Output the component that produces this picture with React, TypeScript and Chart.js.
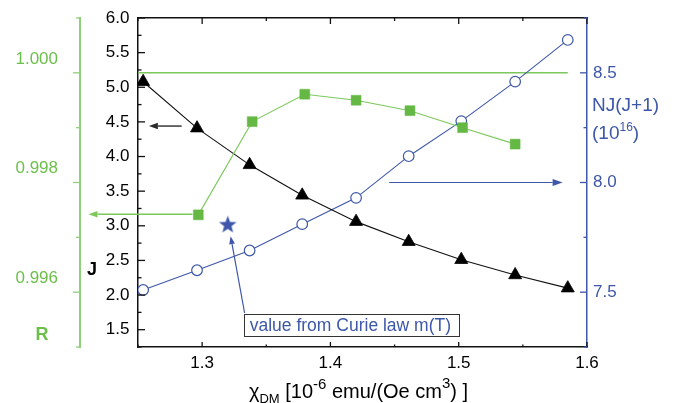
import React, { useEffect, useRef } from 'react';
import { Chart, registerables } from 'chart.js';

Chart.register(...registerables);

// ---------- data ----------
const CHI_DM = [1.254, 1.296, 1.337, 1.378, 1.42, 1.461, 1.502, 1.544, 1.585];
const J_VALUES = [5.08, 4.41, 3.88, 3.44, 3.06, 2.77, 2.51, 2.29, 2.1];
const NJ_VALUES = [7.51, 7.6, 7.69, 7.81, 7.93, 8.12, 8.28, 8.46, 8.65];
const R_CHI = [1.297, 1.339, 1.38, 1.42, 1.462, 1.503, 1.544];
const R_VALUES = [0.99741, 0.99911, 0.99961, 0.9995, 0.99931, 0.999, 0.9987];
const R_REF_CHI = [1.25, 1.585];
const R_REF_VALUES = [1.0, 1.0];
const CURIE_CHI = [1.32];
const CURIE_NJ = [7.81];

const X_MIN = 1.25, X_MAX = 1.6;
const J_MIN = 1.25, J_MAX = 6.0;
const NJ_MIN = 7.25, NJ_MAX = 8.75;
const R_MIN = 0.995, R_MAX = 1.001;

const CURIE_LABEL = 'value from Curie law m(T)';

// ---------- styles ----------
const FONT = '"Liberation Sans", Arial, Helvetica, sans-serif';
const BLACK = '#111111';
const GREEN = '#64b843';
const GREEN_LINE = '#7cc85c';
const GREEN_AXIS = '#8fd07a';
const GREEN_TEXT = '#6cbf4a';
const BLUE = '#3e57a8';

const isMultiple = (v: number, step: number) => Math.abs(v / step - Math.round(v / step)) < 1e-6;

const pts = (xs: number[], ys: number[]) => xs.map((x, i) => ({ x, y: ys[i] }));

function makeStar(size: number, color: string) {
  const c = document.createElement('canvas');
  c.width = size;
  c.height = size;
  const g = c.getContext('2d')!;
  const cx = size / 2, cy = size / 2 + 0.8;
  const R = size / 2 - 0.3, r = R * 0.42;
  g.beginPath();
  for (let i = 0; i < 10; i++) {
    const a = -Math.PI / 2 + (i * Math.PI) / 5;
    const rr = i % 2 ? r : R;
    g.lineTo(cx + rr * Math.cos(a), cy + rr * Math.sin(a));
  }
  g.closePath();
  g.fillStyle = color;
  g.fill();
  return c;
}

function drawArrow(ctx: CanvasRenderingContext2D, x1: number, y1: number, x2: number, y2: number, color: string, width: number, head: number) {
  const ang = Math.atan2(y2 - y1, x2 - x1);
  const hw = head * 0.36;
  const bx = x2 - head * Math.cos(ang), by = y2 - head * Math.sin(ang);
  ctx.save();
  ctx.strokeStyle = color;
  ctx.lineWidth = width;
  ctx.beginPath();
  ctx.moveTo(x1, y1);
  ctx.lineTo(bx, by);
  ctx.stroke();
  ctx.fillStyle = color;
  ctx.beginPath();
  ctx.moveTo(x2, y2);
  ctx.lineTo(bx + hw * Math.sin(ang), by - hw * Math.cos(ang));
  ctx.lineTo(bx - hw * Math.sin(ang), by + hw * Math.cos(ang));
  ctx.closePath();
  ctx.fill();
  ctx.restore();
}

type Part = { t: string; size: number; dy?: number; bold?: boolean };
function drawRich(ctx: CanvasRenderingContext2D, parts: Part[], x: number, y: number, align: 'left' | 'center', color: string) {
  ctx.save();
  ctx.fillStyle = color;
  ctx.textBaseline = 'alphabetic';
  ctx.textAlign = 'left';
  const widths: number[] = [];
  let total = 0;
  for (const p of parts) {
    ctx.font = `${p.bold ? 'bold ' : ''}${p.size}px ${FONT}`;
    const w = ctx.measureText(p.t).width;
    widths.push(w);
    total += w;
  }
  let cx = align === 'center' ? x - total / 2 : x;
  parts.forEach((p, i) => {
    ctx.font = `${p.bold ? 'bold ' : ''}${p.size}px ${FONT}`;
    ctx.fillText(p.t, cx, y + (p.dy || 0));
    cx += widths[i];
  });
  ctx.restore();
}

// tick-mark specs (inward / outward, major & minor lengths)
const TICK_SPECS = [
  { id: 'x', side: 'bottom', color: BLACK, majorStep: 0.1, major: 5, minor: 2.5 },
  { id: 'x2', side: 'top', color: BLACK, majorStep: 0.1, major: 6, minor: 3 },
  { id: 'yJ', side: 'leftIn', color: BLACK, majorStep: 0.5, major: 7, minor: 3.5 },
  { id: 'yR', side: 'leftOut', color: GREEN_AXIS, majorStep: 0.002, major: 7, minor: 4 },
  { id: 'yNJ', side: 'rightIn', color: BLUE, majorStep: 0.5, major: 7, minor: 3.5 },
];

const decorPlugin = {
  id: 'decor',
  afterDraw(chart: any) {
    const ctx: CanvasRenderingContext2D = chart.ctx;
    const s = chart.scales;
    // tick marks
    for (const spec of TICK_SPECS) {
      const sc = s[spec.id];
      ctx.save();
      ctx.strokeStyle = spec.color;
      ctx.lineWidth = 1.3;
      for (const t of sc.ticks) {
        const len = isMultiple(t.value, spec.majorStep) ? spec.major : spec.minor;
        const p = sc.getPixelForValue(t.value);
        ctx.beginPath();
        if (spec.side === 'bottom') { ctx.moveTo(p, sc.top); ctx.lineTo(p, sc.top - len); }
        else if (spec.side === 'top') { ctx.moveTo(p, sc.bottom); ctx.lineTo(p, sc.bottom + len); }
        else if (spec.side === 'leftIn') { ctx.moveTo(sc.right, p); ctx.lineTo(sc.right + len, p); }
        else if (spec.side === 'leftOut') { ctx.moveTo(sc.right, p); ctx.lineTo(sc.right - len, p); }
        else { ctx.moveTo(sc.left, p); ctx.lineTo(sc.left - len, p); }
        ctx.stroke();
      }
      ctx.restore();
    }

    const X = (v: number) => s.x.getPixelForValue(v);
    const YJ = (v: number) => s.yJ.getPixelForValue(v);
    const YR = (v: number) => s.yR.getPixelForValue(v);
    const YN = (v: number) => s.yNJ.getPixelForValue(v);

    // arrows
    drawArrow(ctx, X(1.284), YJ(4.44), X(1.2585), YJ(4.44), '#2a2a2a', 1.4, 9);
    drawArrow(ctx, X(1.2925), YR(0.99742), X(1.2114), YR(0.99742), GREEN_LINE, 1.5, 9);
    drawArrow(ctx, X(1.4458), YN(8.0), X(1.581), YN(8.0), BLUE, 1.2, 10);
    drawArrow(ctx, X(1.3331), YN(7.405), X(1.3222), YN(7.755), BLUE, 1.2, 8);

    // Curie box
    ctx.save();
    const bx1 = X(1.3324), bx2 = X(1.5002), by1 = YN(7.40), by2 = YN(7.30);
    ctx.fillStyle = '#ffffff';
    ctx.fillRect(bx1, by1, bx2 - bx1, by2 - by1);
    ctx.strokeStyle = '#333333';
    ctx.lineWidth = 1;
    ctx.strokeRect(Math.round(bx1) + 0.5, Math.round(by1) + 0.5, Math.round(bx2 - bx1), Math.round(by2 - by1));
    ctx.restore();
    drawRich(ctx, [{ t: CURIE_LABEL, size: 17.5 }], X(1.3371), YN(7.323), 'left', BLUE);

    // axis titles
    drawRich(ctx, [{ t: 'J', size: 18, bold: true }], s.yJ.left + 12, YJ(2.289), 'center', '#000');
    drawRich(ctx, [{ t: 'R', size: 18, bold: true }], s.yR.left + 42, YR(0.995128), 'center', GREEN_TEXT);
    drawRich(ctx, [{ t: 'NJ(J+1)', size: 19 }], s.yNJ.left + 5, YN(8.326), 'left', BLUE);
    drawRich(ctx, [{ t: '(10', size: 19 }, { t: '16', size: 12, dy: -8 }, { t: ')', size: 19 }], s.yNJ.left + 5, YN(8.198), 'left', BLUE);
    drawRich(
      ctx,
      [
        { t: 'χ', size: 20 },
        { t: 'DM', size: 13, dy: 5 },
        { t: ' [10', size: 20 },
        { t: '-6', size: 15, dy: -9 },
        { t: ' emu/(Oe cm', size: 20 },
        { t: '3', size: 15, dy: -10 },
        { t: ') ]', size: 20 },
      ],
      (s.x.left + s.x.right) / 2 - 4,
      s.x.top + 51,
      'center',
      '#000'
    );
  },
};

// vertical scales: fixed width and no extra layout padding from labels
const fixWidth = (w: number) => (sc: any) => {
  sc.width = w;
  sc.paddingTop = 0;
  sc.paddingBottom = 0;
};
const fixHeight = (h: number) => (sc: any) => {
  sc.height = h;
  sc.paddingLeft = 0;
  sc.paddingRight = 0;
};

export default function App() {
  const ref = useRef<HTMLCanvasElement>(null);

  useEffect(() => {
    const canvas = ref.current!;
    const star = makeStar(19, BLUE);
    const tickFont = { family: FONT, size: 17 };
    const gridOff = { display: true, drawOnChartArea: false, drawTicks: false };

    const chart = new Chart(canvas, {
      type: 'line',
      data: {
        datasets: [
          {
            label: 'R',
            data: pts(R_CHI, R_VALUES),
            yAxisID: 'yR',
            borderColor: GREEN_LINE,
            borderWidth: 1.1,
            pointStyle: 'rect',
            pointRadius: 7,
            pointBackgroundColor: GREEN,
            pointBorderColor: GREEN,
            pointBorderWidth: 0.5,
          },
          {
            label: 'J',
            data: pts(CHI_DM, J_VALUES),
            yAxisID: 'yJ',
            borderColor: BLACK,
            borderWidth: 1.1,
            pointStyle: 'triangle',
            pointRadius: 7.5,
            pointBackgroundColor: '#000',
            pointBorderColor: '#000',
            pointBorderWidth: 0.8,
          },
          {
            label: 'NJ(J+1)',
            data: pts(CHI_DM, NJ_VALUES),
            yAxisID: 'yNJ',
            borderColor: BLUE,
            borderWidth: 1.1,
            pointStyle: 'circle',
            pointRadius: 5.3,
            pointBackgroundColor: '#ffffff',
            pointBorderColor: BLUE,
            pointBorderWidth: 1.2,
          },
          {
            label: 'Curie',
            data: pts(CURIE_CHI, CURIE_NJ),
            yAxisID: 'yNJ',
            showLine: false,
            pointStyle: star as any,
            pointRadius: 9,
          },
          {
            label: 'R=1',
            data: pts(R_REF_CHI, R_REF_VALUES),
            yAxisID: 'yR',
            borderColor: GREEN_LINE,
            borderWidth: 1.5,
            pointRadius: 0,
          },
        ],
      },
      options: {
        responsive: false,
        animation: false,
        devicePixelRatio: 1,
        layout: { padding: 0, autoPadding: false },
        plugins: { legend: { display: false }, tooltip: { enabled: false } },
        scales: {
          x: {
            type: 'linear',
            position: 'bottom',
            min: X_MIN,
            max: X_MAX,
            afterFit: fixHeight(56),
            grid: gridOff,
            border: { display: true, color: BLACK, width: 1.5 },
            ticks: {
              stepSize: 0.05,
              autoSkip: false,
              maxRotation: 0,
              minRotation: 0,
              padding: 6,
              color: '#000',
              font: tickFont,
              callback: (v: any) => (isMultiple(v, 0.1) ? Number(v).toFixed(1) : ''),
            },
          },
          x2: {
            type: 'linear',
            position: 'top',
            min: X_MIN,
            max: X_MAX,
            afterFit: fixHeight(18),
            grid: gridOff,
            border: { display: true, color: BLACK, width: 1.5 },
            ticks: { stepSize: 0.05, autoSkip: false, display: false },
          },
          yR: {
            type: 'linear',
            position: 'left',
            weight: 2,
            min: R_MIN,
            max: R_MAX,
            afterFit: fixWidth(80),
            grid: gridOff,
            border: { display: true, color: GREEN_AXIS, width: 2 },
            ticks: {
              stepSize: 0.001,
              autoSkip: false,
              padding: 22,
              labelOffset: -14,
              color: GREEN_TEXT,
              font: tickFont,
              callback: (v: any) => (isMultiple(v, 0.002) ? Number(v).toFixed(3) : ''),
            },
          },
          yJ: {
            type: 'linear',
            position: 'left',
            weight: 1,
            min: J_MIN,
            max: J_MAX,
            afterFit: fixWidth(58),
            grid: gridOff,
            border: { display: true, color: BLACK, width: 1.5 },
            ticks: {
              stepSize: 0.25,
              autoSkip: false,
              padding: 8.5,
              color: '#000',
              font: tickFont,
              callback: (v: any) => (isMultiple(v, 0.5) ? Number(v).toFixed(1) : ''),
            },
          },
          yNJ: {
            type: 'linear',
            position: 'right',
            min: NJ_MIN,
            max: NJ_MAX,
            afterFit: fixWidth(94),
            grid: gridOff,
            border: { display: true, color: BLUE, width: 1.5 },
            ticks: {
              stepSize: 0.25,
              autoSkip: false,
              padding: 6,
              color: BLUE,
              font: tickFont,
              callback: (v: any) => (isMultiple(v, 0.5) ? Number(v).toFixed(1) : ''),
            },
          },
        },
      } as any,
      plugins: [decorPlugin],
    });

    return () => chart.destroy();
  }, []);

  return (
    <div style={{ position: 'absolute', left: 0, top: 0, width: 681, height: 403, background: '#ffffff' }}>
      <canvas ref={ref} width={681} height={403} style={{ display: 'block', width: 681, height: 403 }} />
    </div>
  );
}
